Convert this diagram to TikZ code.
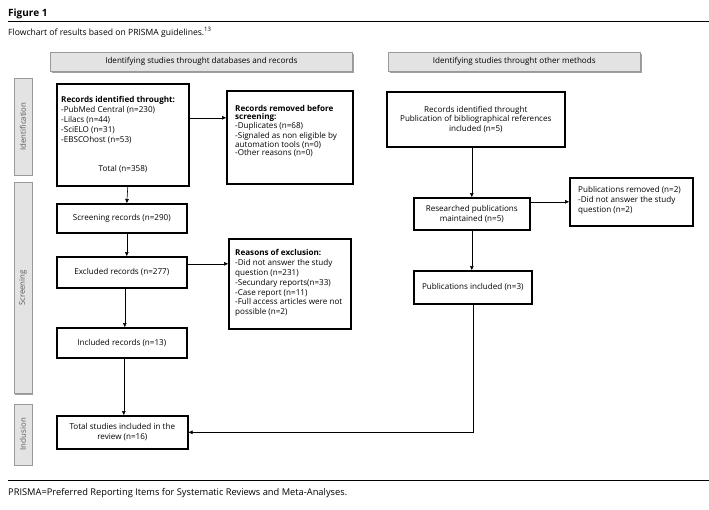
\documentclass[tikz,border=0pt]{standalone}
\usepackage{fontspec}
\setmainfont{Open Sans}
\usetikzlibrary{arrows.meta,shadows}
\begin{document}
\begin{tikzpicture}[x=1pt,y=-1pt,
  box/.style={draw=black, line width=1.6pt, inner sep=2pt, anchor=north west, align=center,
    font=\fontsize{8.1}{9.6}\selectfont},
  txt/.style={inner sep=0pt, align=left, anchor=north west, font=\fontsize{8.1}{9.8}\selectfont},
  hdr/.style={draw=gray!80, fill=gray!22, line width=0.6pt, inner sep=0pt, anchor=north west,
    font=\fontsize{8.1}{9}\selectfont,
    drop shadow={shadow xshift=1.2pt, shadow yshift=-1.2pt, fill=gray!75, opacity=1}},
  side/.style={draw=gray!80, fill=gray!22, line width=0.6pt, inner sep=0pt, rotate=90,
    font=\fontsize{7.8}{9}\selectfont, text=gray!70!black,
    drop shadow={shadow xshift=1.2pt, shadow yshift=-1.2pt, fill=gray!75, opacity=1}},
  arr/.style={-{Triangle[length=4pt,width=3.6pt]}, line width=0.6pt}]
\useasboundingbox (0,0) rectangle (709,509);

% title area
\node[inner sep=0pt, anchor=base west, font=\fontsize{10}{12}\selectfont\bfseries] (title) at (8,16) {Figure 1};
\draw[line width=0.9pt] (8,21) coordinate (r1a) -- (709,21) coordinate (r1b);
\node[inner sep=0pt, anchor=base west, font=\fontsize{8.6}{10}\selectfont] (sub) at (8,35) {Flowchart of results based on PRISMA guidelines.\textsuperscript{13}};

% headers
\node[hdr, minimum width=302pt, minimum height=19pt] (h1) at (50,52) {Identifying studies throught databases and records};
\node[hdr, minimum width=252pt, minimum height=19pt] (h2) at (388,52) {Identifying studies throught other methods};

% side labels
\node[side, minimum width=97pt, minimum height=18pt] (s1) at (23,126.5) {Identification};
\node[side, minimum width=211pt, minimum height=18pt] (s2) at (23,288) {Screening};
\node[side, minimum width=61pt, minimum height=18pt] (s3) at (23,434.5) {Inclusion};

% left column
\node[box, minimum width=132pt, minimum height=102pt] (A) at (56,83) {};
\node[txt] (Atxt) at (61,96.5) {\textbf{Records identified throught:}\\-PubMed Central (n=230)\\-Lilacs (n=44)\\-SciELO (n=31)\\-EBSCOhost (n=53)};
\node[inner sep=0pt, font=\fontsize{8.1}{9.8}\selectfont] (Atot) at (123,169) {Total (n=358)};

\node[box, minimum width=126pt, minimum height=93pt] (B) at (226,90) {};
\node[txt, font=\fontsize{8.1}{7.9}\selectfont] (Btxt) at (235,105.5) {\textbf{Records removed before}\\\textbf{screening:}\\-Duplicates (n=68)\\-Signaled as non eligible by\\automation tools (n=0)\\-Other reasons (n=0)};

\node[box, minimum width=130pt, minimum height=29pt] (C) at (56,203) {Screening records (n=290)};
\node[box, minimum width=130pt, minimum height=31pt] (D) at (56,256) {Excluded records (n=277)};
\node[box, minimum width=122pt, minimum height=90pt] (E) at (228,238) {};
\node[txt] (Etxt) at (235,249.5) {\textbf{Reasons of exclusion:}\\-Did not answer the study\\question (n=231)\\-Secundary reports(n=33)\\-Case report (n=11)\\-Full access articles were not\\possible (n=2)};
\node[box, minimum width=130pt, minimum height=30pt] (F) at (56,327) {Included records (n=13)};
\node[box, minimum width=131pt, minimum height=33pt] (G) at (56,415) {Total studies included in the\\review (n=16)};

% right column
\node[box, minimum width=178pt, minimum height=55pt] (H) at (386,91) {Records identified throught\\Publication of bibliographical references\\included (n=5)};
\node[box, minimum width=116pt, minimum height=32pt] (I) at (413,197) {Researched publications\\maintained (n=5)};
\node[box, minimum width=123pt, minimum height=48pt] (J) at (569,177) {};
\node[txt] (Jtxt) at (578,186.5) {Publications removed (n=2)\\-Did not answer the study\\question (n=2)};
\node[box, minimum width=118pt, minimum height=33pt] (K) at (413,270) {Publications included (n=3)};

% connectors
\draw[arr] ([yshift=17pt]A.east) coordinate (ab) -- (ab -| B.west);
\draw[arr] ([xshift=5pt]A.south) -- ([xshift=5pt]C.north);
\draw[arr] ([xshift=5pt]C.south) -- ([xshift=5pt]D.north);
\draw[arr] ([yshift=8.5pt]D.east) coordinate (de) -- (de -| E.west);
\draw[arr] ([xshift=3pt]D.south) -- ([xshift=3pt]F.north);
\draw[arr] ([xshift=2pt]F.south) -- ([xshift=1.5pt]G.north);
\draw[arr] (H.south -| I.north) -- (I.north);
\draw[arr] ([yshift=12pt]I.east) coordinate (ij) -- (ij -| J.west);
\draw[arr] (I.south) -- (I.south |- K.north);
\draw[arr] (K.south) |- (G.east);

% footer
\draw[line width=0.9pt] (8,480) coordinate (r2a) -- (709,480) coordinate (r2b);
\node[inner sep=0pt, anchor=base west, font=\fontsize{9.3}{10}\selectfont] (foot) at (8,495.5) {PRISMA=Preferred Reporting Items for Systematic Reviews and Meta-Analyses.};
\end{tikzpicture}
\end{document}
